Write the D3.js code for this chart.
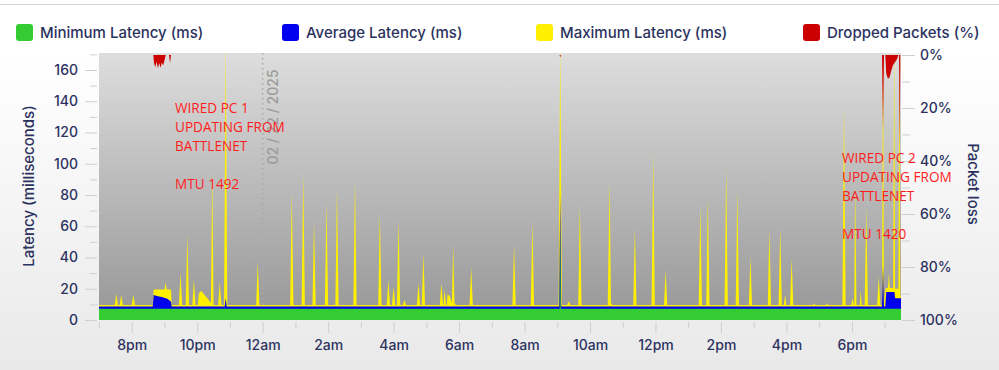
<!DOCTYPE html>
<html>
<head>
<meta charset="utf-8">
<script src="https://cdn.jsdelivr.net/npm/d3@7"></script>
<style>
  html, body { margin: 0; padding: 0; }
  body { width: 999px; height: 370px; overflow: hidden; }
  svg { display: block; }
</style>
</head>
<body>
<svg id="chart" width="999" height="370"></svg>
<script>
// ---------- DATA (hours since 7pm on 02/21/2025, value) ----------
const seriesNames = ["Minimum Latency (ms)", "Average Latency (ms)", "Maximum Latency (ms)", "Dropped Packets (%)"];
const seriesColors = ["#33cc33", "#0000ee", "#fff000", "#cc0000"];

const minLatency = [
  [0,7.2],[14.075,7.2],[14.09,60],[14.105,7.2],[24.5,7.2]
];

const avgLatency = [
  [0,8.6],[1.64,8.6],[1.67,16],[1.8,15.2],[1.95,14.5],[2.1,13.5],[2.2,11.7],[2.22,8.6],
  [3.84,8.6],[3.87,14],[3.9,8.6],
  [14.06,8.6],[14.09,81],[14.12,8.6],
  [23.92,8.6],[23.95,35],[23.98,8.6],
  [24.02,8.6],[24.05,18],[24.3,18],[24.32,14],[24.5,14]
];

const maxLatency = [
  [0,9.6],
  [0.48,9.6],[0.53,16.6],[0.58,9.6],
  [0.63,9.6],[0.68,16],[0.73,9.6],
  [1.00,9.6],[1.05,16],[1.10,9.6],
  [1.64,9.6],[1.67,19.6],[2.0,19.6],[2.03,24],[2.07,19.6],[2.2,19.6],[2.22,9.6],
  [2.44,9.6],[2.49,30.3],[2.54,9.6],
  [2.65,9.6],[2.70,54.8],[2.75,9.6],
  [2.85,9.6],[2.90,26],[2.95,9.6],
  [3.02,9.6],[3.05,17],[3.12,18.8],[3.42,11],
  [3.46,96],[3.50,10],[3.52,9.6],
  [3.64,9.6],[3.69,24.5],[3.74,9.6],
  [3.82,9.6],[3.87,180],[3.92,9.6],
  [4.80,9.6],[4.85,37.3],[4.90,9.6],
  [5.84,9.6],[5.89,82],[5.94,9.6],
  [6.19,9.6],[6.24,94],[6.29,9.6],
  [6.52,9.6],[6.57,63],[6.62,9.6],
  [6.90,9.6],[6.95,74.7],[7.00,9.6],
  [7.22,9.6],[7.27,84],[7.32,9.6],
  [7.77,9.6],[7.82,89.6],[7.87,9.6],
  [8.53,9.6],[8.58,68.3],[8.63,9.6],
  [8.79,9.6],[8.84,25.6],[8.89,9.6],
  [8.95,9.6],[9.00,21.3],[9.05,9.6],
  [9.10,9.6],[9.15,64],[9.20,9.6],
  [9.28,9.6],[9.33,12.8],[9.38,9.6],
  [9.71,9.6],[9.76,23.5],[9.81,9.6],
  [9.86,9.6],[9.91,42.7],[9.96,9.6],
  [10.41,9.6],[10.46,23.5],[10.51,9.6],
  [10.52,9.6],[10.56,19.6],[10.60,9.6],
  [10.62,9.6],[10.65,16.6],[10.72,15],[10.78,11],
  [10.82,48],[10.86,11],[10.90,9.6],
  [11.32,9.6],[11.37,34],[11.42,9.6],
  [12.63,9.6],[12.68,48],[12.73,9.6],
  [13.19,9.6],[13.24,63],[13.29,9.6],
  [14.04,9.6],[14.09,180],[14.14,9.6],
  [14.30,9.6],[14.35,12],[14.40,9.6],
  [14.64,9.6],[14.69,73.6],[14.74,9.6],
  [15.54,9.6],[15.60,89.6],[15.64,11],[15.68,9.6],
  [16.32,9.6],[16.37,58.7],[16.42,9.6],
  [16.88,9.6],[16.93,106.7],[16.98,9.6],
  [17.26,9.6],[17.31,32],[17.36,9.6],
  [18.32,9.6],[18.37,73.6],[18.42,9.6],
  [18.55,9.6],[18.60,77.9],[18.65,9.6],
  [19.11,9.6],[19.16,96],[19.21,9.6],
  [19.45,9.6],[19.50,83.2],[19.55,9.6],
  [19.85,9.6],[19.90,40.5],[19.95,9.6],
  [20.43,9.6],[20.48,57.6],[20.53,9.6],
  [20.76,9.6],[20.81,58.7],[20.86,9.6],
  [20.92,9.6],[20.96,16],[21.00,9.6],
  [21.11,9.6],[21.16,39.5],[21.21,9.6],
  [21.82,9.6],[21.85,10.8],[21.88,9.6],
  [22.22,9.6],[22.25,10.8],[22.28,9.6],
  [22.71,9.6],[22.76,137.6],[22.81,9.6],
  [22.98,9.6],[23.02,13.9],[23.06,9.6],
  [23.07,9.6],[23.10,87.5],[23.14,9.6],
  [23.24,9.6],[23.27,19],[23.30,9.6],
  [23.39,9.6],[23.44,72.5],[23.49,9.6],
  [23.77,9.6],[23.82,27.7],[23.87,9.6],
  [23.92,9.6],[23.95,180],[23.98,12],
  [24.03,20.5],[24.10,20.5],[24.13,30],[24.16,20.5],[24.26,20.5],[24.29,180],[24.32,20],
  [24.42,20],[24.45,180],[24.48,15],[24.5,15]
];

const droppedPackets = [
  [0,0],[1.66,0],[1.68,3],[1.72,4.5],[1.76,2.5],[1.80,5],[1.84,3],[1.88,4.8],[1.92,2.8],
  [1.96,4],[2.00,2],[2.04,0],[2.14,0],[2.17,3],[2.20,0],
  [14.07,0],[14.09,0.9],[14.11,0],
  [23.92,0],[23.95,28],[23.98,0],
  [24.02,0],[24.05,7],[24.10,9],[24.15,8.5],[24.20,6],[24.25,4],[24.30,3],[24.38,1.5],[24.42,0],
  [24.44,0],[24.46,35],[24.48,0],[24.5,0]
];

const latencyTicks = [0, 20, 40, 60, 80, 100, 120, 140, 160];
const lossTicks = [0, 20, 40, 60, 80, 100];
const dateLabel = "02 / 22 / 2025";
const annotation1 = ["WIRED PC 1", "UPDATING FROM", "BATTLENET", "", "MTU 1492"];
const annotation2 = ["WIRED PC 2", "UPDATING FROM", "BATTLENET", "", "MTU 1420"];

// ---------- LAYOUT ----------
const W = 999, H = 370;
const plot = { left: 99, right: 901, top: 53, bottom: 320 };
const navy = "#2c3260";
const font = "Inter, 'Noto Sans', sans-serif";

const start = new Date(2025, 1, 21, 19, 0, 0);
const time = h => new Date(start.getTime() + h * 3600e3);

const x = d3.scaleTime().domain([time(0), time(24.5)]).range([plot.left, plot.right]);
const y = d3.scaleLinear().domain([0, 160]).range([plot.bottom, 70]);
const y2 = d3.scaleLinear().domain([0, 100]).range([55, plot.bottom]);

const svg = d3.select("#chart");
const defs = svg.append("defs");

const pageGrad = defs.append("linearGradient").attr("id", "pageGrad")
  .attr("x1", 0).attr("y1", 0).attr("x2", 0).attr("y2", 1);
pageGrad.append("stop").attr("offset", "0%").attr("stop-color", "#ffffff");
pageGrad.append("stop").attr("offset", "15%").attr("stop-color", "#ffffff");
pageGrad.append("stop").attr("offset", "100%").attr("stop-color", "#e9e9e9");

const plotGrad = defs.append("linearGradient").attr("id", "plotGrad")
  .attr("x1", 0).attr("y1", 0).attr("x2", 0).attr("y2", 1);
plotGrad.append("stop").attr("offset", "0%").attr("stop-color", "#dddddd");
plotGrad.append("stop").attr("offset", "100%").attr("stop-color", "#979797");

defs.append("clipPath").attr("id", "plotClip").append("rect")
  .attr("x", plot.left).attr("y", plot.top)
  .attr("width", plot.right - plot.left).attr("height", plot.bottom - plot.top);

// page background
svg.append("rect").attr("width", W).attr("height", H).attr("fill", "url(#pageGrad)");
svg.append("line").attr("x1", 0).attr("x2", W).attr("y1", 4.5).attr("y2", 4.5)
  .attr("stroke", "#d4d4d4").attr("stroke-width", 1);

// legend
const legendX = [16, 282, 536, 803];
const leg = svg.append("g");
seriesNames.forEach((name, i) => {
  leg.append("rect").attr("x", legendX[i]).attr("y", 24).attr("width", 17).attr("height", 17)
    .attr("rx", 3).attr("fill", seriesColors[i]);
  leg.append("text").attr("x", legendX[i] + 24).attr("y", 33).attr("dy", "0.35em")
    .attr("font-family", font).attr("font-size", 15).attr("font-weight", 500)
    .attr("fill", navy).text(name);
});

// plot background
svg.append("rect").attr("x", plot.left).attr("y", plot.top)
  .attr("width", plot.right - plot.left).attr("height", plot.bottom - plot.top)
  .attr("fill", "url(#plotGrad)");

const g = svg.append("g").attr("clip-path", "url(#plotClip)");

const areaL = d3.area().x(d => x(time(d[0]))).y0(y(0)).y1(d => y(d[1]));
const areaD = d3.area().x(d => x(time(d[0]))).y0(y2(0)).y1(d => y2(d[1]));

// date divider
const xMid = x(time(5));
g.append("line").attr("x1", xMid).attr("x2", xMid).attr("y1", plot.top).attr("y2", plot.bottom)
  .attr("stroke", "#a9a9a9").attr("stroke-width", 1.6).attr("stroke-dasharray", "1.6,3.4");
g.append("text").attr("transform", `translate(${xMid + 10},117) rotate(-90)`)
  .attr("text-anchor", "middle").attr("dy", "0.35em")
  .attr("font-family", font).attr("font-size", 14).attr("font-weight", 500)
  .attr("fill", "#9b9b9b").text(dateLabel);

g.append("path").datum(maxLatency).attr("d", areaL).attr("fill", seriesColors[2]);
g.append("path").datum(avgLatency).attr("d", areaL).attr("fill", seriesColors[1]);
g.append("path").datum(minLatency).attr("d", areaL).attr("fill", seriesColors[0]);
g.append("path").datum(droppedPackets).attr("d", areaD).attr("fill", seriesColors[3]);

// left axis
const tickColor = "#cfcfcf";
const leftMinor = svg.append("g").attr("transform", `translate(97,0)`)
  .call(d3.axisLeft(y).tickValues(d3.range(10, 171, 20)).tickSize(7).tickFormat(""));
const leftMajor = svg.append("g").attr("transform", `translate(97,0)`)
  .call(d3.axisLeft(y).tickValues(latencyTicks).tickSize(12).tickPadding(7));

// right axis
const rightMinor = svg.append("g").attr("transform", `translate(902,0)`)
  .call(d3.axisRight(y2).tickValues(d3.range(10, 100, 20)).tickSize(8).tickFormat(""));
const rightMajor = svg.append("g").attr("transform", `translate(902,0)`)
  .call(d3.axisRight(y2).tickValues(lossTicks).tickSize(13).tickPadding(5).tickFormat(d => d + "%"));

// bottom axis
const hourTicks = x.ticks(d3.timeHour.every(1));
const fmt = d3.timeFormat("%-I%p");
const bottomMinor = svg.append("g").attr("transform", `translate(0,322)`)
  .call(d3.axisBottom(x).tickValues(hourTicks.filter(d => d.getHours() % 2 === 1)).tickSize(6).tickFormat(""));
const bottomMajor = svg.append("g").attr("transform", `translate(0,322)`)
  .call(d3.axisBottom(x).tickValues(hourTicks.filter(d => d.getHours() % 2 === 0)).tickSize(11).tickPadding(7)
    .tickFormat(d => fmt(d).toLowerCase()));

[leftMinor, leftMajor, rightMinor, rightMajor, bottomMinor, bottomMajor].forEach(a => {
  a.select(".domain").remove();
  a.selectAll(".tick line").attr("stroke", tickColor);
  a.selectAll(".tick text").attr("font-family", font).attr("font-size", 14)
    .attr("font-weight", 500).attr("fill", navy);
});

// axis titles
svg.append("text").attr("transform", "translate(29,186) rotate(-90)")
  .attr("text-anchor", "middle").attr("dy", "0.35em")
  .attr("font-family", font).attr("font-size", 15).attr("font-weight", 500)
  .attr("fill", navy).text("Latency (milliseconds)");
svg.append("text").attr("transform", "translate(973,184) rotate(90)")
  .attr("text-anchor", "middle").attr("dy", "0.35em")
  .attr("font-family", font).attr("font-size", 15).attr("font-weight", 500)
  .attr("fill", navy).text("Packet loss");

// annotations
function annotate(lines, ax, ay) {
  const t = svg.append("text").attr("font-family", "'Open Sans', 'Liberation Sans', sans-serif")
    .attr("font-size", 13.6).attr("fill", "#ff1c1c");
  lines.forEach((l, i) => {
    t.append("tspan").attr("x", ax).attr("y", ay + i * 19).text(l);
  });
}
annotate(annotation1, 175, 113);
annotate(annotation2, 842, 163);
</script>
</body>
</html>
